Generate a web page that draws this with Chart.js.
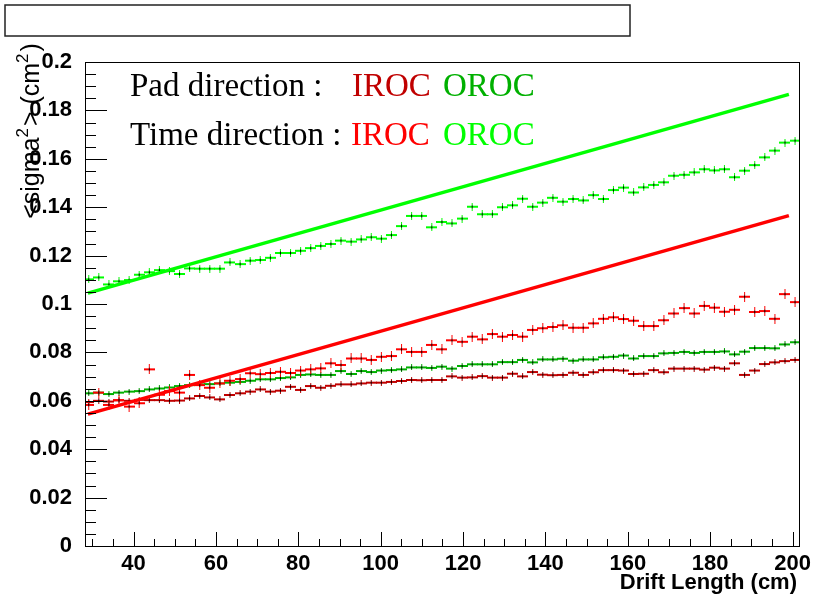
<!DOCTYPE html>
<html>
<head>
<meta charset="utf-8">
<script src="https://cdn.jsdelivr.net/npm/chart.js@4.4.1/dist/chart.umd.min.js"></script>
<style>
  html, body { margin: 0; padding: 0; background: #fff; }
  #wrap { width: 815px; height: 603px; }
</style>
</head>
<body>
<div id="wrap"><canvas id="chart" width="815" height="603"></canvas></div>
<script>
// Drift length bin centres (cm)
const binCenters = [
  29.10, 31.55, 34.00, 36.45, 38.90, 41.35, 43.80, 46.25, 48.70, 51.15,
  53.60, 56.05, 58.50, 60.95, 63.40, 65.85, 68.30, 70.75, 73.20, 75.65,
  78.10, 80.55, 83.00, 85.45, 87.90, 90.35, 92.80, 95.25, 97.70, 100.15,
  102.60, 105.05, 107.50, 109.95, 112.40, 114.85, 117.30, 119.75, 122.20, 124.65,
  127.10, 129.55, 132.00, 134.45, 136.90, 139.35, 141.80, 144.25, 146.70, 149.15,
  151.60, 154.05, 156.50, 158.95, 161.40, 163.85, 166.30, 168.75, 171.20, 173.65,
  176.10, 178.55, 181.00, 183.45, 185.90, 188.35, 190.80, 193.25, 195.70, 198.15,
  200.60
]

// Time direction, OROC (bright green crosses)
const orocTime = [
  0.1102, 0.1110, 0.1081, 0.1094, 0.1099, 0.1121, 0.1131, 0.1140, 0.1136, 0.1124,
  0.1147, 0.1146, 0.1146, 0.1146, 0.1172, 0.1165, 0.1179, 0.1182, 0.1191, 0.1211,
  0.1211, 0.1220, 0.1231, 0.1240, 0.1248, 0.1262, 0.1258, 0.1267, 0.1276, 0.1270,
  0.1285, 0.1322, 0.1364, 0.1364, 0.1317, 0.1339, 0.1333, 0.1353, 0.1402, 0.1371,
  0.1371, 0.1400, 0.1408, 0.1435, 0.1402, 0.1419, 0.1439, 0.1423, 0.1434, 0.1428,
  0.1450, 0.1434, 0.1471, 0.1481, 0.1461, 0.1482, 0.1492, 0.1503, 0.1530, 0.1534,
  0.1544, 0.1557, 0.1552, 0.1557, 0.1524, 0.1551, 0.1574, 0.1606, 0.1634, 0.1667,
  0.1675
]

// Time direction, IROC (bright red crosses)
const irocTime = [
  0.0583, 0.0634, 0.0583, 0.0603, 0.0576, 0.0590, 0.0730, 0.0625, 0.0640, 0.0634,
  0.0707, 0.0665, 0.0654, 0.0672, 0.0683, 0.0690, 0.0714, 0.0710, 0.0715, 0.0720,
  0.0715, 0.0725, 0.0730, 0.0734, 0.0755, 0.0748, 0.0775, 0.0775, 0.0769, 0.0782,
  0.0785, 0.0813, 0.0802, 0.0802, 0.0831, 0.0813, 0.0850, 0.0844, 0.0865, 0.0854,
  0.0876, 0.0865, 0.0872, 0.0865, 0.0893, 0.0900, 0.0905, 0.0912, 0.0902, 0.0902,
  0.0920, 0.0939, 0.0945, 0.0938, 0.0931, 0.0909, 0.0909, 0.0933, 0.0961, 0.0983,
  0.0961, 0.0992, 0.0985, 0.0968, 0.0976, 0.1030, 0.0967, 0.0971, 0.0939, 0.1041,
  0.1008
]

// Pad direction, OROC (dark green crosses)
const orocPad = [
  0.0631, 0.0634, 0.0628, 0.0634, 0.0638, 0.0640, 0.0647, 0.0651, 0.0655, 0.0661,
  0.0665, 0.0668, 0.0669, 0.0672, 0.0675, 0.0678, 0.0683, 0.0689, 0.0689, 0.0694,
  0.0697, 0.0707, 0.0709, 0.0707, 0.0707, 0.0723, 0.0711, 0.0723, 0.0719, 0.0725,
  0.0727, 0.0730, 0.0738, 0.0738, 0.0736, 0.0741, 0.0733, 0.0744, 0.0751, 0.0751,
  0.0751, 0.0760, 0.0760, 0.0769, 0.0759, 0.0771, 0.0771, 0.0774, 0.0766, 0.0771,
  0.0771, 0.0780, 0.0782, 0.0787, 0.0775, 0.0785, 0.0785, 0.0796, 0.0798, 0.0802,
  0.0798, 0.0802, 0.0802, 0.0804, 0.0792, 0.0803, 0.0818, 0.0818, 0.0817, 0.0833,
  0.0842
]

// Pad direction, IROC (dark red crosses)
const irocPad = [
  0.0595, 0.0600, 0.0597, 0.0602, 0.0600, 0.0604, 0.0603, 0.0603, 0.0600, 0.0601,
  0.0610, 0.0620, 0.0614, 0.0606, 0.0624, 0.0631, 0.0638, 0.0647, 0.0638, 0.0642,
  0.0658, 0.0645, 0.0661, 0.0654, 0.0662, 0.0668, 0.0668, 0.0672, 0.0675, 0.0675,
  0.0678, 0.0682, 0.0686, 0.0685, 0.0686, 0.0686, 0.0701, 0.0696, 0.0697, 0.0702,
  0.0696, 0.0696, 0.0712, 0.0701, 0.0719, 0.0708, 0.0706, 0.0707, 0.0716, 0.0707,
  0.0718, 0.0727, 0.0727, 0.0725, 0.0711, 0.0712, 0.0727, 0.0718, 0.0733, 0.0733,
  0.0733, 0.0729, 0.0737, 0.0733, 0.0755, 0.0707, 0.0725, 0.0752, 0.0759, 0.0764,
  0.0769
]

// Straight fit lines: [start, end] points
const fitOrocX = [28.9, 199.1]
const fitOrocY = [0.1045, 0.1866]
const fitIrocX = [28.9, 199.1]
const fitIrocY = [0.0545, 0.1365]

// Axis ticks
const xTicks = [40, 60, 80, 100, 120, 140, 160, 180, 200]
const yTicks = [0, 0.02, 0.04, 0.06, 0.08, 0.1, 0.12, 0.14, 0.16, 0.18, 0.2]

const COLORS = {
  irocPad: '#c00000',
  orocPad: '#00b000',
  irocTime: '#ff0000',
  orocTime: '#00ff00'
}

Chart.defaults.font.family = "'Liberation Sans', Arial, sans-serif"
Chart.defaults.color = '#000'

// ROOT-like error-bar marker: horizontal bar over the bin, short vertical bar, black dot
function makeMarker(color, errPx) {
  const w = 11
  const h = errPx * 2 + 2
  const c = document.createElement('canvas')
  c.width = w
  c.height = h
  const g = c.getContext('2d')
  g.fillStyle = color
  g.fillRect(0, h / 2 - 1, w, 2)
  g.fillRect(5, 0, 1, h)
  g.fillStyle = '#000'
  g.fillRect(5, h / 2 - 1.5, 1, 3)
  return c
}

function points(xs, ys) {
  return xs.map((x, i) => ({ x: x, y: ys[i] }))
}

function crossSet(label, values, color, errPx) {
  return {
    label: label,
    data: points(binCenters, values),
    showLine: false,
    pointStyle: makeMarker(color, errPx),
    pointRadius: 5,
    order: 1
  }
}

function fitSet(label, xs, ys, color) {
  return {
    label: label,
    data: points(xs, ys),
    showLine: true,
    borderColor: color,
    borderWidth: 3.5,
    pointRadius: 0,
    fill: false,
    order: 0
  }
}

// Frame, inward ticks, title box, legend text and axis titles
const rootDecor = {
  id: 'rootDecor',
  afterDraw(chart) {
    const ctx = chart.ctx
    const a = chart.chartArea
    const xs = chart.scales.x
    const ys = chart.scales.y
    ctx.save()

    // frame
    ctx.strokeStyle = '#000'
    ctx.lineWidth = 1
    ctx.strokeRect(a.left + 0.5, a.top + 0.5, a.right - a.left - 1, a.bottom - a.top)

    // y ticks (minor every 0.005, major every 0.02)
    ctx.beginPath()
    for (let k = 0; k <= 40; k++) {
      const py = Math.round(ys.getPixelForValue(k * 0.005)) + 0.5
      const len = k % 4 === 0 ? 22 : 11
      ctx.moveTo(a.left, py)
      ctx.lineTo(a.left + len, py)
    }
    // x ticks (minor every 5, major every 20)
    for (let v = 30; v <= 200; v += 5) {
      const px = Math.round(xs.getPixelForValue(v)) + 0.5
      const len = v % 20 === 0 ? 14 : 7
      ctx.moveTo(px, a.bottom)
      ctx.lineTo(px, a.bottom - len)
    }
    ctx.stroke()

    // empty title box
    ctx.strokeStyle = '#222'
    ctx.lineWidth = 1.5
    ctx.strokeRect(5, 5, 625, 31)

    // legend text
    ctx.textBaseline = 'alphabetic'
    ctx.textAlign = 'left'
    ctx.font = "33px 'Liberation Serif', 'Times New Roman', serif"
    ctx.fillStyle = '#000'
    ctx.fillText('Pad direction :', 130, 96)
    ctx.fillStyle = COLORS.irocPad
    ctx.fillText('IROC', 352, 96)
    ctx.fillStyle = COLORS.orocPad
    ctx.fillText('OROC', 443, 96)
    ctx.fillStyle = '#000'
    ctx.fillText('Time direction :', 130, 145)
    ctx.fillStyle = COLORS.irocTime
    ctx.fillText('IROC', 351, 145)
    ctx.fillStyle = COLORS.orocTime
    ctx.fillText('OROC', 443, 145)

    // x axis title
    ctx.fillStyle = '#000'
    ctx.font = "bold 22px 'Liberation Sans', Arial, sans-serif"
    ctx.textAlign = 'right'
    ctx.fillText('Drift Length (cm)', 797, 589)

    // y axis title with superscripts, rotated, centred near y = 131
    const parts = [
      ['<sigma', false], ['2', true], ['> (cm', false], ['2', true], [')', false]
    ]
    const big = "25px 'Liberation Sans', Arial, sans-serif"
    const small = "17px 'Liberation Sans', Arial, sans-serif"
    let total = 0
    parts.forEach(p => { ctx.font = p[1] ? small : big; total += ctx.measureText(p[0]).width + (p[1] ? 2 : 0) })
    ctx.translate(39, 131 + total / 2)
    ctx.rotate(-Math.PI / 2)
    ctx.textAlign = 'left'
    let pos = 0
    parts.forEach(p => {
      ctx.font = p[1] ? small : big
      ctx.fillText(p[0], pos, p[1] ? -11 : 0)
      pos += ctx.measureText(p[0]).width + (p[1] ? 2 : 0)
    })
    ctx.restore()
  }
}

new Chart(document.getElementById('chart'), {
  type: 'scatter',
  data: {
    datasets: [
      fitSet('OROC time fit', fitOrocX, fitOrocY, COLORS.orocTime),
      fitSet('IROC time fit', fitIrocX, fitIrocY, COLORS.irocTime),
      crossSet('OROC time', orocTime, COLORS.orocTime, 3),
      crossSet('IROC time', irocTime, COLORS.irocTime, 4),
      crossSet('OROC pad', orocPad, COLORS.orocPad, 2),
      crossSet('IROC pad', irocPad, COLORS.irocPad, 2)
    ]
  },
  options: {
    responsive: false,
    animation: false,
    layout: { padding: { top: 62, right: 15, left: 0, bottom: 0 } },
    plugins: {
      legend: { display: false },
      tooltip: { enabled: false }
    },
    scales: {
      x: {
        type: 'linear',
        min: 28.2,
        max: 201.8,
        grid: { display: false },
        border: { display: false },
        afterBuildTicks: scale => { scale.ticks = xTicks.map(v => ({ value: v })) },
        afterFit: scale => { scale.height = 57; scale.paddingLeft = 0; scale.paddingRight = 0 },
        ticks: {
          autoSkip: false,
          maxRotation: 0,
          padding: -3,
          color: '#000',
          font: { size: 22, weight: 'bold' },
          callback: v => String(v)
        }
      },
      y: {
        type: 'linear',
        min: 0,
        max: 0.2,
        grid: { display: false },
        border: { display: false },
        afterBuildTicks: scale => { scale.ticks = yTicks.map(v => ({ value: v })) },
        afterFit: scale => { scale.width = 85; scale.paddingTop = 0; scale.paddingBottom = 0 },
        ticks: {
          autoSkip: false,
          padding: 5,
          color: '#000',
          font: { size: 22, weight: 'bold' },
          callback: v => String(v)
        }
      }
    }
  },
  plugins: [rootDecor]
})
</script>
</body>
</html>
